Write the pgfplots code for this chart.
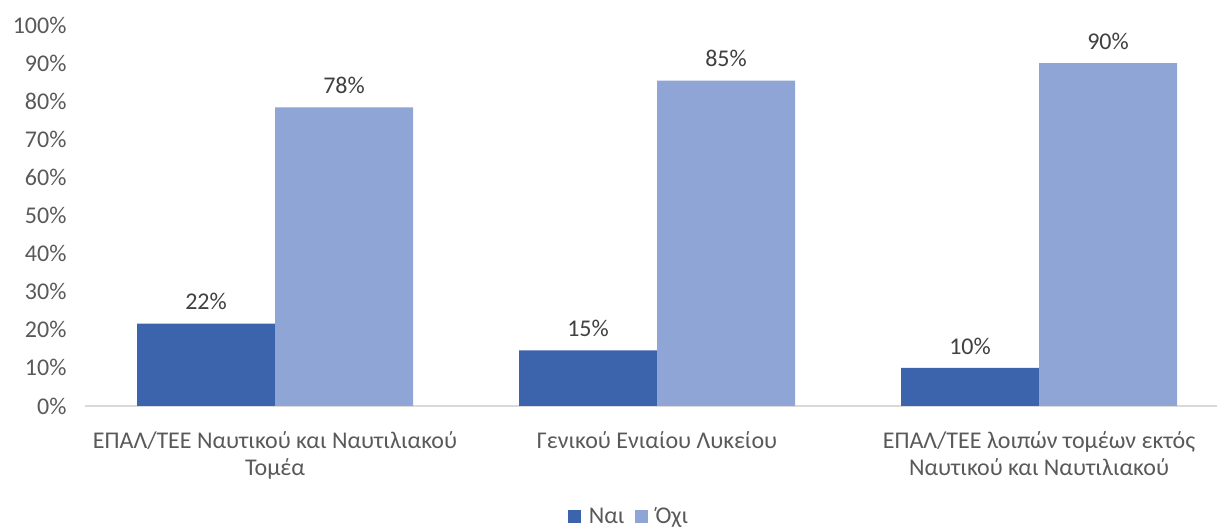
\documentclass[border=0pt]{standalone}
\usepackage{fontspec}
\setmainfont{Carlito}
\usepackage{pgfplots}
\pgfplotsset{compat=1.18}
\definecolor{nai}{HTML}{3B64AD}
\definecolor{oxi}{HTML}{8FA5D6}
\definecolor{txt}{HTML}{595959}
\definecolor{lbl}{HTML}{404040}
\definecolor{axl}{HTML}{D9D9D9}
\newcommand{\cf}{\fontsize{24}{27.5}\selectfont}
\begin{document}
\begin{tikzpicture}
\path[use as bounding box] (0,0) rectangle (1217pt,529pt);
\begin{axis}[
 at={(85pt,123pt)}, anchor=south west,
 width=1132pt, height=381pt, scale only axis,
 xmin=-0.4974, xmax=2.466, ymin=0, ymax=100,
 ybar=0pt, bar width=138pt,
 axis x line*=bottom, axis y line*=left,
 x axis line style={draw=axl, line width=1.3pt, -},
 y axis line style={draw=none},
 major tick length=0pt,
 xtick={0,1,2},
 xticklabels={ΕΠΑΛ/ΤΕΕ Ναυτικού και Ναυτιλιακού\\Τομέα, Γενικού Ενιαίου Λυκείου, ΕΠΑΛ/ΤΕΕ λοιπών τομέων εκτός\\Ναυτικού και Ναυτιλιακού},
 xticklabel style={align=center, font=\cf, text=txt, yshift=-22pt},
 ytick={0,10,...,100},
 yticklabel={\pgfmathprintnumber{\tick}\%},
 yticklabel style={font=\cf, text=txt, xshift=-15pt},
 /pgf/number format/assume math mode=true,
 nodes near coords={\pgfmathprintnumber[fixed,precision=0]{\pgfplotspointmeta}\%},
 nodes near coords style={font=\cf, text=lbl, yshift=10pt},
 legend style={draw=none, legend columns=2, at={(0.4806,-0.29)}, anchor=center,
   font=\cf, text=txt, /tikz/every even column/.append style={column sep=8pt}},
 legend image code/.code={\fill[#1] (0pt,-6.5pt) rectangle (13pt,6.5pt); \path (19pt,0pt);},
]
\addplot[fill=nai, draw=none] coordinates {(0,21.6) (1,14.6) (2,10)};
\addplot[fill=oxi, draw=none] coordinates {(0,78.4) (1,85.4) (2,90)};
\legend{Ναι, Όχι}
\end{axis}
\end{tikzpicture}
\end{document}
